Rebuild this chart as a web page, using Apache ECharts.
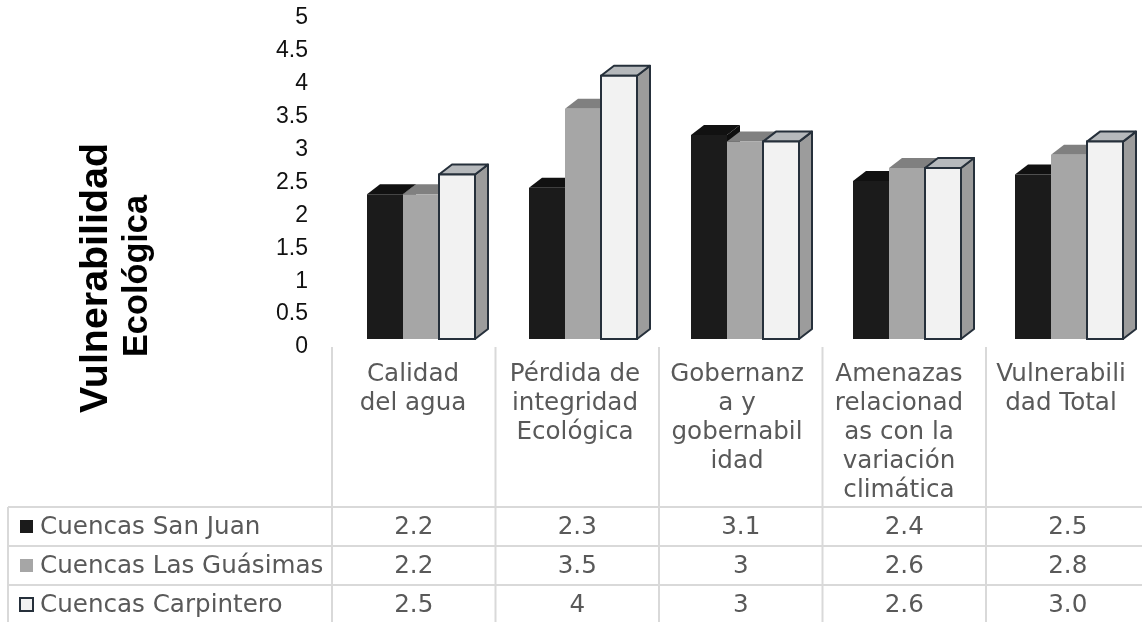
<!DOCTYPE html>
<html><head><meta charset="utf-8">
<script src="https://cdn.jsdelivr.net/npm/echarts@6/dist/echarts.min.js"></script>
<style>html,body{margin:0;padding:0;background:#fff}#c{width:1142px;height:622px}</style>
</head><body><div id="c"></div>
<script>
// ---- data ----
const categories = ['Calidad\ndel agua', 'Pérdida de\nintegridad\nEcológica', 'Gobernanz\na y\ngobernabil\nidad', 'Amenazas\nrelacionad\nas con la\nvariación\nclimática', 'Vulnerabili\ndad Total'];
const seriesNames = ['Cuencas San Juan', 'Cuencas Las Guásimas', 'Cuencas Carpintero'];
const sanJuan = [2.2, 2.3, 3.1, 2.4, 2.5];
const lasGuasimas = [2.2, 3.5, 3, 2.6, 2.8];
const carpintero = [2.5, 4, 3, 2.6, 3.0];
const yAxisTitleLines = ['Vulnerabilidad', 'Ecológica'];

// ---- styles / layout ----
const seriesData = [sanJuan, lasGuasimas, carpintero];
const faces = [
  { front: '#1b1b1b', top: '#111111', side: '#0e0e0e', stroke: null, key: '#1b1b1b' },
  { front: '#a6a6a6', top: '#808080', side: '#8a8a8a', stroke: null, key: '#a6a6a6' },
  { front: '#f2f2f2', top: '#b6b9bc', side: '#9c9c9c', stroke: '#26303b', key: '#f2f2f2' }
];
const GRID_LEFT = 332, GRID_TOP = 18, GRID_H = 329, COL_W = 163.5, NCOL = 5;
const BAR_W = 36, DX = 13, DY = 10, SHIFT_X = 8, SHIFT_Y = 8;
const TABLE_TOP = 507, ROW_H = 39, TABLE_LEFT = 8;
const lineColor = '#d9d9d9', textColor = '#595959';
const tableFont = 'DejaVu Sans', tableSize = 24.6;

function fmt(v, ci) { return ci === categories.length - 1 ? v.toFixed(1) : String(v); }

function makeSeries(s) {
  return {
    type: 'custom', name: seriesNames[s], z: 2 + s,
    data: seriesData[s].map((v, i) => [i, v]),
    encode: { x: 0, y: 1 },
    renderItem(params, api) {
      const i = api.value(0), v = api.value(1);
      const top = api.coord([i, v]), base = api.coord([i, 0]);
      const x0 = top[0] + SHIFT_X - 1.5 * BAR_W + s * BAR_W;
      const x1 = x0 + BAR_W;
      const yT = top[1] - SHIFT_Y, yB = base[1] - SHIFT_Y;
      const st = faces[s];
      const lw = st.stroke ? 2 : 0;
      const stroke = st.stroke || null;
      return {
        type: 'group', children: [
          { type: 'polygon', shape: { points: [[x1, yB], [x1 + DX, yB - DY], [x1 + DX, yT - DY], [x1, yT]] },
            style: { fill: st.side, stroke: stroke, lineWidth: lw, lineJoin: 'round' } },
          { type: 'polygon', shape: { points: [[x0, yT], [x1, yT], [x1 + DX, yT - DY], [x0 + DX, yT - DY]] },
            style: { fill: st.top, stroke: stroke, lineWidth: lw, lineJoin: 'round' } },
          { type: 'rect', shape: { x: x0, y: yT, width: BAR_W, height: yB - yT },
            style: { fill: st.front, stroke: stroke, lineWidth: lw } }
        ]
      };
    }
  };
}

// ---- data table graphics ----
const graphics = [];
const tableBottom = TABLE_TOP + ROW_H * seriesNames.length;
for (let k = 0; k <= NCOL; k++) {
  const x = GRID_LEFT + k * COL_W;
  graphics.push({ type: 'line', shape: { x1: x, y1: GRID_TOP + GRID_H, x2: x, y2: tableBottom }, style: { stroke: lineColor, lineWidth: 2 }, silent: true });
}
graphics.push({ type: 'line', shape: { x1: TABLE_LEFT, y1: TABLE_TOP, x2: TABLE_LEFT, y2: tableBottom }, style: { stroke: lineColor, lineWidth: 2 }, silent: true });
for (let r = 0; r <= seriesNames.length; r++) {
  const y = TABLE_TOP + r * ROW_H;
  graphics.push({ type: 'line', shape: { x1: TABLE_LEFT, y1: y, x2: GRID_LEFT + NCOL * COL_W, y2: y }, style: { stroke: lineColor, lineWidth: 2 }, silent: true });
}
const tFont = tableSize + 'px "' + tableFont + '"';
seriesNames.forEach((name, r) => {
  const cy = TABLE_TOP + (r + 0.5) * ROW_H;
  const st = faces[r];
  graphics.push({ type: 'rect', shape: { x: 20, y: cy - 6.5, width: 13, height: 13 },
    style: { fill: st.key, stroke: st.stroke || null, lineWidth: st.stroke ? 2 : 0 }, silent: true });
  graphics.push({ type: 'text', x: 40, y: cy + 1, style: { text: name, font: tFont, fill: textColor, textAlign: 'left', textVerticalAlign: 'middle' }, silent: true });
  seriesData[r].forEach((v, ci) => {
    graphics.push({ type: 'text', x: GRID_LEFT + (ci + 0.5) * COL_W, y: cy + 1,
      style: { text: fmt(v, ci), font: tFont, fill: textColor, textAlign: 'center', textVerticalAlign: 'middle' }, silent: true });
  });
});
// y-axis title (two rotated lines)
graphics.push({ type: 'text', x: 96, y: 278, rotation: Math.PI / 2,
  style: { text: yAxisTitleLines[0], font: 'bold 39.4px "Liberation Sans"', fill: '#000', textAlign: 'center', textVerticalAlign: 'middle' }, silent: true });
graphics.push({ type: 'text', x: 137.5, y: 276, rotation: Math.PI / 2,
  style: { text: yAxisTitleLines[1], font: 'bold 34.3px "Liberation Sans"', fill: '#000', textAlign: 'center', textVerticalAlign: 'middle' }, silent: true });

const chart = echarts.init(document.getElementById('c'), null, { renderer: 'canvas' });
chart.setOption({
  animation: false,
  backgroundColor: '#ffffff',
  grid: { left: GRID_LEFT, top: GRID_TOP, width: COL_W * NCOL, height: GRID_H, containLabel: false },
  xAxis: {
    type: 'category', data: categories,
    axisLine: { show: false }, axisTick: { show: false }, splitLine: { show: false },
    axisLabel: { interval: 0, fontFamily: tableFont, fontSize: tableSize, lineHeight: 29, color: textColor, margin: 13, align: 'center', verticalAlign: 'top' }
  },
  yAxis: {
    type: 'value', min: 0, max: 5, interval: 0.5,
    axisLine: { show: false }, axisTick: { show: false }, splitLine: { show: false },
    axisLabel: { fontFamily: 'Liberation Sans', fontSize: 23, color: '#111', margin: 24 }
  },
  series: [0, 1, 2].map(makeSeries),
  graphic: graphics
});
</script>
</body></html>
